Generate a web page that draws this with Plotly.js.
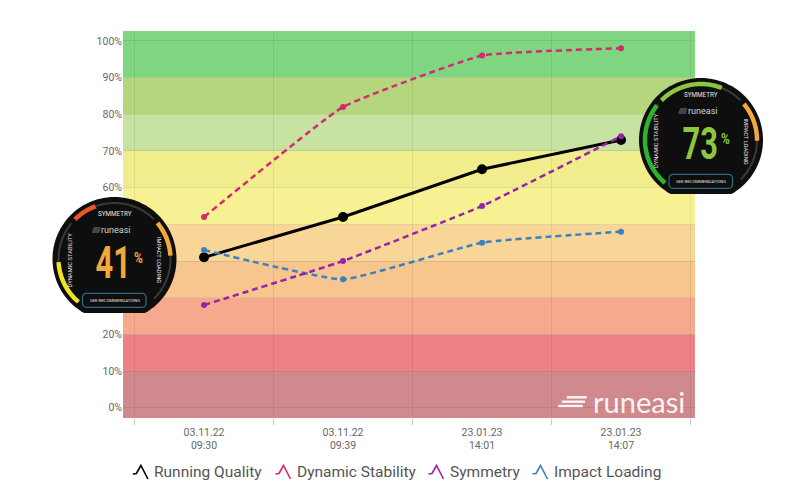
<!DOCTYPE html>
<html>
<head>
<meta charset="utf-8">
<script src="https://cdn.plot.ly/plotly-3.0.1.min.js"></script>
<style>html,body{margin:0;padding:0;background:#fff;}#chart{width:800px;height:500px;}</style>
</head>
<body>
<div id="chart"></div>
<script>
// ---------- data ----------
const categories = ['03.11.22<br>09:30', '03.11.22<br>09:39', '23.01.23<br>14:01', '23.01.23<br>14:07'];
const seriesNames = ['Running Quality', 'Dynamic Stability', 'Symmetry', 'Impact Loading'];
const runningQuality = [41, 52, 65, 73];
const dynamicStability = [52, 82, 96, 98];
const symmetry = [28, 40, 55, 74];
const impactLoading = [43, 35, 45, 48];
const yTickValues = [0, 10, 20, 30, 40, 50, 60, 70, 80, 90, 100];
// 30 %, 40 % and 50 % are hidden behind the first score badge in the original
const yTickLabels = ['0%', '10%', '20%', '', '', '', '60%', '70%', '80%', '90%', '100%'];
const zoneEdges = [-10, 10, 20, 30, 40, 50, 60, 70, 80, 90, 110];
const zoneColors = ['#d0898d', '#ef8088', '#f6aa8d', '#f7c58e', '#f8d697', '#f8f194', '#f1ec8c', '#c8e2a1', '#b6d67d', '#80d680'];
const badgeLabels = ['SYMMETRY', 'IMPACT LOADING', 'DYNAMIC STABILITY', 'SEE RECOMMENDATIONS'];
const brand = 'runeasi';

// ---------- geometry helpers (pixel -> paper) ----------
const L = 123, R = 695, T = 31, B = 418;
const fx = px => (px - L) / (R - L);
const fy = py => (B - py) / (B - T);
const pathOf = (pts, close) => pts.map((p, i) => (i ? 'L' : 'M') + fx(p[0]).toFixed(5) + ',' + fy(p[1]).toFixed(5)).join(' ') + (close ? ' Z' : '');
function arcPts(cx, cy, r, a0, a1, n) {
  n = n || 48; const pts = [];
  for (let i = 0; i <= n; i++) { const a = (a0 + (a1 - a0) * i / n) * Math.PI / 180; pts.push([cx + r * Math.cos(a), cy - r * Math.sin(a)]); }
  return pts;
}
function roundRect(x0, y0, x1, y1, r) {
  let pts = [];
  pts = pts.concat(arcPts(x1 - r, y0 + r, r, 90, 0, 8));
  pts = pts.concat(arcPts(x1 - r, y1 - r, r, 0, -90, 8));
  pts = pts.concat(arcPts(x0 + r, y1 - r, r, -90, -180, 8));
  pts = pts.concat(arcPts(x0 + r, y0 + r, r, 180, 90, 8));
  return pts;
}
function scoreColor(v) {
  if (v < 30) return '#e8562b';
  if (v < 50) return '#f2a83b';
  if (v < 70) return '#f0e41e';
  if (v < 90) return '#8dc63f';
  return '#2cb42c';
}

const shapes = [];
const annotations = [];

// background zones
for (let i = 0; i < zoneColors.length; i++) {
  shapes.push({type: 'rect', xref: 'paper', yref: 'y', x0: 0, x1: 1, y0: zoneEdges[i], y1: zoneEdges[i + 1],
    fillcolor: zoneColors[i], line: {width: 0}, layer: 'below'});
}

// ---------- traces ----------
const seriesValues = [runningQuality, dynamicStability, symmetry, impactLoading];
const seriesColors = ['#000000', '#d42a72', '#9a22a8', '#3d80c2'];
const traces = [];
[0, 3, 2, 1].forEach(k => {
  const main = k === 0;
  traces.push({
    type: 'scatter', mode: 'lines+markers', name: seriesNames[k], x: categories, y: seriesValues[k],
    line: main ? {color: seriesColors[k], width: 3} : {color: seriesColors[k], width: 2.5, dash: '6px,4px', shape: 'spline', smoothing: 0.35},
    marker: {color: seriesColors[k], size: main ? 10 : 6},
    showlegend: false, hoverinfo: 'skip'
  });
});

// ---------- badges ----------
const badges = [{cx: 114.5, cy: 259, idx: 0}, {cx: 701, cy: 140, idx: categories.length - 1}];
badges.forEach(b => {
  const {cx, cy, idx} = b;
  shapes.push({type: 'path', xref: 'paper', yref: 'paper', path: pathOf(arcPts(cx, cy, 62, -60.6, 240.6, 90), true),
    fillcolor: '#0e0e0e', line: {width: 0}, layer: 'above'});
  const rr = 56;
  const gauges = [
    {a0: 135, a1: 45, v: symmetry[idx]},
    {a0: 40, a1: -45, v: impactLoading[idx]},
    {a0: 230, a1: 140, v: dynamicStability[idx]}
  ];
  gauges.forEach(g => {
    shapes.push({type: 'path', xref: 'paper', yref: 'paper', path: pathOf(arcPts(cx, cy, rr, g.a0, g.a1, 40)),
      line: {color: '#3a3a3a', width: 2}, layer: 'above'});
    const aEnd = g.a0 + (g.a1 - g.a0) * g.v / 100;
    shapes.push({type: 'path', xref: 'paper', yref: 'paper', path: pathOf(arcPts(cx, cy, rr, g.a0, aEnd, 40)),
      line: {color: scoreColor(g.v), width: 4.5}, layer: 'above'});
  });
  shapes.push({type: 'path', xref: 'paper', yref: 'paper', path: pathOf(roundRect(cx - 32, cy + 34.3, cx + 31.5, cy + 48.3, 4), true),
    fillcolor: '#0e0e0e', line: {color: '#2c6a80', width: 1.2}, layer: 'above'});
  [[-21, -14, -31], [-22, -14.5, -29], [-22.5, -15, -27]].forEach(s => {
    shapes.push({type: 'line', xref: 'paper', yref: 'paper', x0: fx(cx + s[0]), x1: fx(cx + s[1]), y0: fy(cy + s[2]), y1: fy(cy + s[2]),
      line: {color: '#9a9a9a', width: 0.8}, layer: 'above'});
  });
  const txt = (text, px, py, size, color, angle) => annotations.push({
    xref: 'paper', yref: 'paper', x: fx(px), y: fy(py), text: text, showarrow: false, xanchor: 'center', yanchor: 'middle',
    textangle: angle || 0, font: {family: 'Roboto', size: size, color: color}
  });
  txt(badgeLabels[0], cx, cy - 45.5, 6.3, '#e6e6e6', 0);
  txt(badgeLabels[1], cx + 44.5, cy + 1, 5.8, '#e6e6e6', 90);
  txt(badgeLabels[2], cx - 45, cy + 1, 5.8, '#e6e6e6', -90);
  txt(badgeLabels[3], cx, cy + 41.5, 4.3, '#e6e6e6', 0);
  txt(brand, cx + 1, cy - 29, 9, '#d0d0d0', 0);
  const v = runningQuality[idx];
  const col = scoreColor(v);
  annotations.push({xref: 'paper', yref: 'paper', x: fx(cx - 1), y: fy(cy + 3.5), text: String(v), showarrow: false,
    xanchor: 'center', yanchor: 'middle', borderpad: 0, font: {family: 'Roboto', size: 44, color: col, weight: 'bold'}});
  annotations.push({xref: 'paper', yref: 'paper', x: fx(cx + 24), y: fy(cy - 1), text: '%', showarrow: false,
    xanchor: 'center', yanchor: 'middle', borderpad: 0, font: {family: 'Roboto', size: 15, color: col, weight: 'bold'}});
});

// ---------- watermark logo ----------
[[566.7, 586.7, 397.3], [561.7, 585, 401.7], [558.3, 582.7, 406]].forEach(s => {
  shapes.push({type: 'line', xref: 'paper', yref: 'paper', x0: fx(s[0]), x1: fx(s[1]), y0: fy(s[2]), y1: fy(s[2]),
    line: {color: 'rgba(255,255,255,0.92)', width: 2.4}, layer: 'above'});
});
annotations.push({xref: 'paper', yref: 'paper', x: fx(638.5), y: fy(401), text: brand, showarrow: false, xanchor: 'center', yanchor: 'middle',
  font: {family: 'Lato', size: 29, color: 'rgba(255,255,255,0.92)'}});

// ---------- legend (custom icons) ----------
const legendStarts = [152.4, 295, 448, 552];
seriesNames.forEach((n, k) => {
  const sx = legendStarts[k];
  const ox = sx - 19.5, oy = 465;
  const pts = [[0, 9], [3.5, 8.5], [8, 0.5], [15, 14]].map(p => [ox + p[0], oy + p[1]]);
  shapes.push({type: 'path', xref: 'paper', yref: 'paper', path: pathOf(pts), line: {color: seriesColors[k], width: 1.6}, layer: 'above'});
  annotations.push({xref: 'paper', yref: 'paper', x: fx(sx), y: fy(472), text: n, showarrow: false, xanchor: 'left', yanchor: 'middle',
    font: {family: 'Roboto', size: 15.5, color: '#555'}});
});

const layout = {
  width: 800, height: 500,
  margin: {l: L, r: 800 - R, t: T, b: 500 - B, autoexpand: false},
  paper_bgcolor: '#ffffff', plot_bgcolor: '#ffffff',
  font: {family: 'Roboto', color: '#666'},
  showlegend: false,
  xaxis: {type: 'category', range: [-0.583, 3.532], tickson: 'boundaries', ticks: 'outside', ticklen: 6, tickcolor: '#c8c8c8',
    ticklabelstandoff: 6,
    showgrid: true, gridcolor: 'rgba(0,0,0,0.07)', zeroline: false, showline: false, tickfont: {size: 10.5, color: '#666'}, fixedrange: true},
  yaxis: {range: [-2.8, 102.7], tickmode: 'array', tickvals: yTickValues, ticktext: yTickLabels, showgrid: true, gridcolor: 'rgba(0,0,0,0.08)', zeroline: false,
    showline: false, tickfont: {size: 10.5, color: '#666'}, fixedrange: true},
  shapes: shapes,
  annotations: annotations
};

// condense the big badge numbers horizontally (the original uses a narrow display face)
function condense() {
  document.querySelectorAll('#chart text.annotation-text').forEach(t => {
    const s = t.textContent;
    let k = 0;
    if (/^\d+$/.test(s) && t.getBBox().height > 30) k = 0.7;
    else if (s === '%') k = 0.8;
    if (!k) return;
    const bb = t.getBBox();
    const c = bb.x + bb.width / 2;
    t.setAttribute('transform', 'translate(' + c + ',0) scale(' + k + ',1) translate(' + (-c) + ',0)');
  });
}
Plotly.newPlot('chart', traces, layout, {displayModeBar: false, staticPlot: true}).then(condense);
</script>
</body>
</html>
